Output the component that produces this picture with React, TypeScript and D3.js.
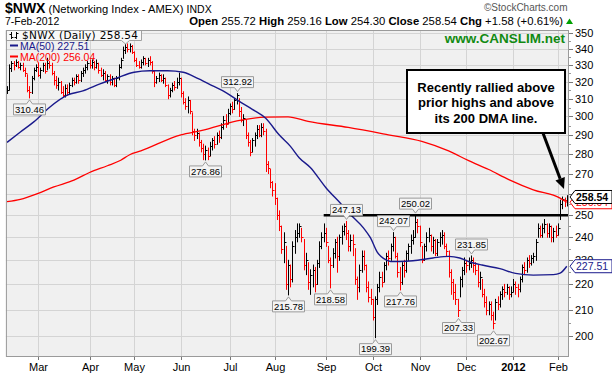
import React from 'react';
import * as d3 from 'd3';

// ---- daily price data, Feb 8 2011 .. Feb 7 2012 (trading-day index 0..251) ----
const closes = [
  315, 328, 331, 330, 332, 329, 330, 327, 325, 315,
  314, 322, 327, 329, 324, 327, 330, 326, 331, 330,
  325, 321, 318, 320, 314, 312, 316, 314, 318, 321,
  320, 323, 321, 325, 327, 329, 331, 330, 332, 329,
  331, 327, 324, 325, 321, 323, 320, 322, 318, 322,
  329, 333, 339, 341, 340, 342, 338, 333, 330, 329,
  332, 334, 331, 333, 332, 326, 320, 322, 324, 321,
  322, 318, 312, 315, 318, 317, 320, 322, 313, 308,
  306, 309, 303, 292, 290, 291, 286, 283, 280, 282,
  279, 284, 287, 285, 290, 289, 294, 298, 296, 302,
  306, 304, 309, 312, 303, 298, 299, 290, 286, 281,
  287, 290, 293, 290, 294, 292, 275, 273, 266, 262,
  258, 250, 245, 235, 238, 220, 228, 222, 236, 240,
  242, 245, 240, 228, 230, 221, 224, 226, 220, 229,
  236, 240, 242, 238, 230, 228, 233, 238, 232, 240,
  243, 245, 242, 236, 239, 237, 222, 219, 226, 232,
  228, 219, 215, 214, 207, 214, 219, 223, 221, 228,
  232, 231, 236, 240, 232, 225, 221, 228, 226, 233,
  236, 239, 240, 247, 245, 238, 230, 236, 240, 241,
  236, 239, 233, 238, 240, 241, 236, 234, 225, 221,
  217, 214, 210, 222, 226, 229, 228, 229, 230, 228,
  226, 221, 223, 216, 213, 210, 212, 208, 205, 213,
  212, 216, 218, 217, 219, 216, 217, 220, 219, 218,
  222, 227, 226, 230, 229, 231, 232, 238, 244, 241,
  244, 246, 242, 245, 240, 243, 241, 244, 255, 257.5,
  256.96, 258.54,
];
const highs = [
  317, 330, 332, 332, 333, 332, 331, 331, 328, 324,
  317, 323, 328, 330, 331, 328, 331, 331, 334, 332,
  331, 326, 323, 322, 320, 317, 318, 318, 319, 322,
  322, 324, 324, 326, 328, 330, 332, 333, 333, 332,
  333, 331, 328, 327, 326, 324, 324, 323, 322, 323,
  330, 334, 341, 343, 343, 343, 342, 338, 334, 332,
  333, 335, 334, 334, 335, 332, 326, 323, 325, 324,
  324, 322, 318, 316, 319, 320, 322, 325, 322, 314,
  310, 311, 309, 302, 293, 293, 291, 287, 285, 284,
  283, 286, 288, 289, 291, 292, 296, 300, 301, 304,
  307, 308, 310, 312.92, 310, 305, 301, 298, 291, 287,
  288, 291, 295, 295, 296, 296, 293, 276, 272, 266,
  265, 258, 252, 245, 242, 236, 230, 228, 238, 243,
  246, 246, 244, 239, 233, 229, 226, 228, 227, 230,
  238, 242, 246, 244, 236, 231, 235, 239, 240, 241,
  245, 246, 247.13, 243, 241, 241, 235, 223, 228, 234,
  234, 228, 221, 218, 214, 215, 220, 225, 225, 229,
  233, 234, 237, 242.07, 240, 233, 227, 229, 230, 234,
  237, 241, 243, 250.02, 248, 245, 236, 237, 242, 244,
  241, 240, 239, 239, 242, 243, 242, 237, 234, 226,
  222, 220, 214, 223, 227, 231, 230, 231, 231.85, 231,
  229, 228, 225, 222, 218, 215, 213, 213, 209, 214,
  215, 217, 219, 220, 220, 219, 219, 222, 221, 220,
  223, 228, 229, 231, 232, 232, 233, 239, 246, 245,
  246, 248, 246, 246, 245, 244, 245, 246, 257, 258.5,
  258, 259.16,
];
const lows = [
  313, 315, 326, 327, 329, 328, 327, 326, 323, 314,
  310.46, 313, 321, 326, 323, 322, 326, 325, 327, 328,
  324, 318, 316, 315, 313, 311, 311, 312, 313, 317,
  318, 319, 319, 320, 323, 325, 327, 328, 328, 327,
  328, 325, 323, 321, 320, 319, 318, 318, 317, 317,
  321, 328, 334, 337, 338, 338, 337, 332, 329, 328,
  328, 330, 330, 329, 330, 325, 317, 319, 320, 320,
  319, 317, 310, 311, 314, 315, 316, 318, 311, 307,
  304, 302, 301.5, 290, 287, 288, 284, 281, 277, 276.86,
  277, 279, 282, 283, 285, 286, 288, 293, 294, 296,
  301, 302, 304, 307, 300, 297, 295, 288, 284, 279,
  281, 284, 288, 289, 289, 290, 271, 270, 263, 259,
  255, 248, 243, 233, 229, 218, 215.78, 219, 221, 233,
  238, 240, 238, 226, 224, 218, 216, 219, 217, 220,
  227, 235, 238, 236, 229, 218.58, 227, 231, 225, 230,
  237, 241, 239, 234, 234, 232, 220, 214, 217, 225,
  226, 217, 213, 212, 206, 199.39, 212, 217, 219, 221,
  226, 228, 230, 234, 231, 223, 217.76, 220, 223, 225,
  230, 233, 237, 240, 242, 236, 229, 230, 234, 238,
  234, 233, 232, 232, 236, 237, 235, 232, 223, 216,
  214, 212, 207.33, 215, 219, 224, 225, 226, 227, 225,
  224, 219, 218, 215, 211, 208, 208, 206, 202.67, 206,
  210, 211, 214, 215, 216, 214, 215, 217, 216, 215,
  217, 221, 224, 225, 227, 228, 229, 230, 240, 240,
  240, 242, 240, 240, 238, 238, 240, 241, 248, 253,
  254, 254.3,
];

// ---- moving averages (trading-day index, value) ----
const ma50Idx = [0, 6, 12, 19, 27, 34, 42, 49, 57, 64, 72, 79, 86, 92, 98, 104, 110, 116, 122, 127, 131, 136, 143, 150, 154, 160, 163, 166, 169, 172, 176, 182, 191, 198, 203, 207, 213, 221, 228, 236, 245, 248, 251];
const ma50Vals = [286, 291.5, 297, 305, 312, 314.5, 318.8, 322, 325.5, 326.4, 326.4, 325.5, 321.5, 317.6, 313.7, 308.6, 304, 299, 290, 284, 278, 273, 263, 255, 250.3, 244, 239.7, 233.5, 230.7, 229.5, 229.5, 229.8, 231, 231.7, 231, 229.5, 228, 226.5, 224.5, 223.8, 224, 224.6, 227.51];
const ma200Idx = [0, 6, 14, 21, 30, 37, 45, 51, 55, 60, 78, 87, 105, 116, 126, 135, 153, 171, 186, 198, 207, 216, 225, 236, 248, 251];
const ma200Vals = [256.3, 257.4, 260.3, 263.4, 266.7, 270.5, 273.9, 276.7, 279.5, 281.5, 290, 292.2, 298, 299.6, 299.8, 297.3, 294, 290, 286.5, 281.5, 276.5, 272, 267, 262, 258, 256.04];

// ---- axis ----
const monthLabels = ['Mar', 'Apr', 'May', 'Jun', 'Jul', 'Aug', 'Sep', 'Oct', 'Nov', 'Dec', '2012', 'Feb'];
const monthStartIdx = [14, 37, 57, 78, 100, 120, 143, 164, 185, 206, 227, 247];
const priceTicks = [200, 210, 220, 230, 240, 250, 260, 270, 280, 290, 300, 310, 320, 330, 340, 350];
const minorTicks = [205, 215, 225, 235, 245, 255, 265, 275, 285, 295, 305, 315, 325, 335, 345];

// ---- annotated swing highs / lows ----
const pivotIdx = [10, 89, 103, 126, 145, 152, 165, 173, 176, 183, 202, 208, 218];
const pivotVals = [310.46, 276.86, 312.92, 215.78, 218.58, 247.13, 199.39, 242.07, 217.76, 250.02, 207.33, 231.85, 202.67];
const pivotSide = ['low', 'low', 'high', 'low', 'low', 'high', 'low', 'high', 'low', 'high', 'low', 'high', 'low'];
const hiddenPeakIdx = 53;

const resistanceLevel = 250;
const resistanceFromIdx = 142;
const lastClose = 258.54;
const ma50Last = 227.51;
const ma200Last = 256.04;

const noteLines = ['Recently rallied above', 'prior highs and above', 'its 200 DMA line.'];

const FONT = 'Liberation Sans, Arial, Helvetica, sans-serif';

export default function App() {
  const W = 612, H = 378;
  const left = 5.9, right = 569, top = 30, bottom = 357;
  const x = d3.scaleLinear().domain([-0.5, 251.5]).range([left, 567.9]);
  const y = d3.scaleLog().domain([200, 350]).range([336, 33]);
  const px = (i: number) => Math.round(x(i)) + 0.5;
  const py = (v: number) => Math.round(y(v)) + 0.5;

  const line = d3.line<[number, number]>()
    .x(d => x(d[0]))
    .y(d => y(d[1]))
    .curve(d3.curveMonotoneX);
  const ma50Path = line(ma50Idx.map((d, k) => [d, ma50Vals[k]] as [number, number])) || '';
  const ma200Path = line(ma200Idx.map((d, k) => [d, ma200Vals[k]] as [number, number])) || '';

  const tag = (v: number) => {
    const yv = y(v);
    const x0 = right + 1;
    return `M${x0},${yv} L${x0 + 5},${yv - 6.5} L${x0 + 42},${yv - 6.5} L${x0 + 42},${yv + 6.5} L${x0 + 5},${yv + 6.5} Z`;
  };

  const labelBox = (i: number, v: number, side: string) => {
    const cx = px(i);
    const w = 32, h = 11;
    const yv = y(v);
    if (side === 'low') {
      const tip = yv + 2;
      const t = yv + 6;
      return {
        d: `M${cx - w / 2},${t} L${cx - 3},${t} L${cx},${tip} L${cx + 3},${t} L${cx + w / 2},${t} L${cx + w / 2},${t + h} L${cx - w / 2},${t + h} Z`,
        tx: cx, ty: t + h - 2.3,
      };
    }
    const tip = yv - 2;
    const b = yv - 6;
    return {
      d: `M${cx - w / 2},${b - h} L${cx + w / 2},${b - h} L${cx + w / 2},${b} L${cx + 3},${b} L${cx},${tip} L${cx - 3},${b} L${cx - w / 2},${b} Z`,
      tx: cx, ty: b - 2.3,
    };
  };

  const arrowStart: [number, number] = [543, 133];
  const arrowEnd: [number, number] = [564, 189];
  const ang = Math.atan2(arrowEnd[1] - arrowStart[1], arrowEnd[0] - arrowStart[0]);
  const ah = 11, aw = 5;
  const baseX = arrowEnd[0] - ah * Math.cos(ang), baseY = arrowEnd[1] - ah * Math.sin(ang);
  const arrowHead = `M${arrowEnd[0]},${arrowEnd[1]} L${baseX + aw * Math.sin(ang)},${baseY - aw * Math.cos(ang)} L${baseX - aw * Math.sin(ang)},${baseY + aw * Math.cos(ang)} Z`;

  return (
    <svg width={W} height={H} style={{ position: 'absolute', left: 0, top: 0 }} fontFamily={FONT}>
      <rect width={W} height={H} fill="#ffffff" />
      <defs>
        <clipPath id="plotclip">
          <rect x={left} y={top} width={right - left} height={bottom - top} />
        </clipPath>
      </defs>

      {/* header */}
      <text x={5} y={13} fill="#000">
        <tspan fontSize={14} fontWeight="bold">$NWX</tspan>
        <tspan fontSize={11.2}> (Networking Index - AMEX) </tspan>
        <tspan fontSize={10.5}>INDX</tspan>
      </text>
      <text x={5} y={25} fontSize={10.5} fill="#000">7-Feb-2012</text>
      <text x={484} y={11} fontSize={10} fill="#555">©StockCharts.com</text>
      <text x={563} y={25} fontSize={11.3} textAnchor="end" fill="#000">
        <tspan fontWeight="bold">Open</tspan><tspan> 255.72  </tspan>
        <tspan fontWeight="bold">High</tspan><tspan> 259.16  </tspan>
        <tspan fontWeight="bold">Low</tspan><tspan> 254.30  </tspan>
        <tspan fontWeight="bold">Close</tspan><tspan> 258.54  </tspan>
        <tspan fontWeight="bold">Chg</tspan><tspan> +1.58 (+0.61%)</tspan>
      </text>
      <path d="M566,24 L569.5,18.5 L573,24 Z" fill="#00a000" />

      {/* plot background */}
      <rect x={left} y={top} width={right - left} height={bottom - top} fill="#f0f0f0" />

      {/* grid */}
      {priceTicks.map(t => (
        <line key={'h' + t} x1={left} x2={right} y1={py(t)} y2={py(t)} stroke="#d4d4d4" strokeWidth={1} />
      ))}
      {monthStartIdx.map(i => (
        <line key={'v' + i} x1={px(i)} x2={px(i)} y1={top} y2={bottom} stroke="#d4d4d4" strokeWidth={1} />
      ))}

      <g clipPath="url(#plotclip)">
        {/* price bars */}
        {closes.map((c, i) => {
          const up = i === 0 || c >= closes[i - 1];
          const col = up ? '#000000' : '#ff0000';
          const bx = px(i);
          return (
            <g key={'b' + i} stroke={col} strokeWidth={1}>
              <line x1={bx} x2={bx} y1={y(highs[i]) - 0.5} y2={y(lows[i]) + 0.5} />
              <line x1={bx} x2={bx + 2} y1={py(c)} y2={py(c)} />
            </g>
          );
        })}

        {/* moving averages */}
        <path d={ma200Path} fill="none" stroke="#ff0000" strokeWidth={1.3} />
        <path d={ma50Path} fill="none" stroke="#1a1a8c" strokeWidth={1.4} />

        {/* resistance line */}
        <line x1={x(resistanceFromIdx)} x2={right} y1={y(resistanceLevel)} y2={y(resistanceLevel)} stroke="#000" strokeWidth={2.6} />
      </g>

      {/* pivot labels */}
      {pivotIdx.map((i, k) => {
        const b = labelBox(i, pivotVals[k], pivotSide[k]);
        return (
          <g key={'p' + k}>
            <path d={b.d} fill="#f4f4f4" stroke="#9a9a9a" strokeWidth={1} />
            <text x={b.tx} y={b.ty} fontSize={9.5} textAnchor="middle" fill="#000">{pivotVals[k].toFixed(2)}</text>
          </g>
        );
      })}

      {/* legend */}
      <path
        d={`M${left + 0.5},${top + 0.5} L141.5,${top + 0.5} L141.5,40.5 L${px(hiddenPeakIdx) + 4},40.5 L${px(hiddenPeakIdx)},44 L${px(hiddenPeakIdx) - 4},40.5 L${left + 0.5},40.5 Z`}
        fill="#f8f8f8" stroke="#a0a0a0" strokeWidth={1}
      />
      <g strokeWidth={1}>
        <line x1={11.5} x2={11.5} y1={32} y2={39} stroke="#000" />
        <line x1={9.5} x2={11.5} y1={34.5} y2={34.5} stroke="#000" />
        <line x1={11.5} x2={13.5} y1={37.5} y2={37.5} stroke="#000" />
        <line x1={16.5} x2={16.5} y1={32} y2={39} stroke="#000" />
        <line x1={14.5} x2={16.5} y1={37.5} y2={37.5} stroke="#000" />
        <line x1={16.5} x2={18.5} y1={33.5} y2={33.5} stroke="#000" />
      </g>
      <text x={22} y={38.5} fontSize={10.5} fill="#000" textLength={116} lengthAdjust="spacing" fontFamily="DejaVu Sans, sans-serif">$NWX (Daily) 258.54</text>
      <line x1={10} x2={18} y1={45.5} y2={45.5} stroke="#1a1a8c" strokeWidth={2} />
      <text x={20} y={49.5} fontSize={10.5} fill="#1a1a8c">MA(50) 227.51</text>
      <line x1={10} x2={18} y1={56.5} y2={56.5} stroke="#ff0000" strokeWidth={2} />
      <text x={20} y={60.5} fontSize={10.5} fill="#ff0000">MA(200) 256.04</text>

      {/* site mark */}
      <text x={565} y={43} fontSize={13.5} fontWeight="bold" fill="#128a12" textAnchor="end">www.CANSLIM.net</text>

      {/* plot frame */}
      <rect x={left + 0.5} y={top + 0.5} width={right - left - 1} height={bottom - top - 1} fill="none" stroke="#9a9a9a" strokeWidth={1} />

      {/* right axis */}
      {priceTicks.map(t => (
        <g key={'yt' + t}>
          <line x1={right} x2={right + 4} y1={py(t)} y2={py(t)} stroke="#777" />
          <text x={right + 6} y={y(t) + 4} fontSize={11} fill="#000">{t}</text>
        </g>
      ))}
      {minorTicks.map(t => (
        <line key={'ym' + t} x1={right} x2={right + 2} y1={py(t)} y2={py(t)} stroke="#999" />
      ))}

      {/* value tags */}
      <path d={tag(ma200Last)} fill="#ffffff" stroke="#ff0000" strokeWidth={1} />
      <text x={right + 7} y={y(ma200Last) + 4} fontSize={10.5} fill="#ff0000">{ma200Last.toFixed(2)}</text>
      <path d={tag(lastClose)} fill="#ffffff" stroke="#000" strokeWidth={1} />
      <text x={right + 7} y={y(lastClose) + 4} fontSize={10.5} fontWeight="bold" fill="#000">{lastClose.toFixed(2)}</text>
      <path d={tag(ma50Last)} fill="#ffffff" stroke="#1a1a8c" strokeWidth={1} />
      <text x={right + 7} y={y(ma50Last) + 4} fontSize={10.5} fill="#1a1a8c">{ma50Last.toFixed(2)}</text>

      {/* x axis */}
      {monthStartIdx.map((i, k) => (
        <g key={'xt' + i}>
          <line x1={px(i)} x2={px(i)} y1={bottom} y2={bottom + 3} stroke="#777" />
          <text x={px(i)} y={371} fontSize={11} textAnchor="middle" fontWeight={monthLabels[k] === '2012' ? 'bold' : 'normal'} fill="#000">{monthLabels[k]}</text>
        </g>
      ))}

      {/* annotation */}
      <rect x={407} y={70} width={158} height={63} fill="#ffffff" stroke="#000" strokeWidth={2} />
      {noteLines.map((s, k) => (
        <text key={'n' + k} x={486} y={91.5 + k * 15.5} fontSize={13} fontWeight="bold" textAnchor="middle" fill="#000">{s}</text>
      ))}
      <line x1={arrowStart[0]} y1={arrowStart[1]} x2={baseX} y2={baseY} stroke="#000" strokeWidth={3} />
      <path d={arrowHead} fill="#000" />
    </svg>
  );
}
